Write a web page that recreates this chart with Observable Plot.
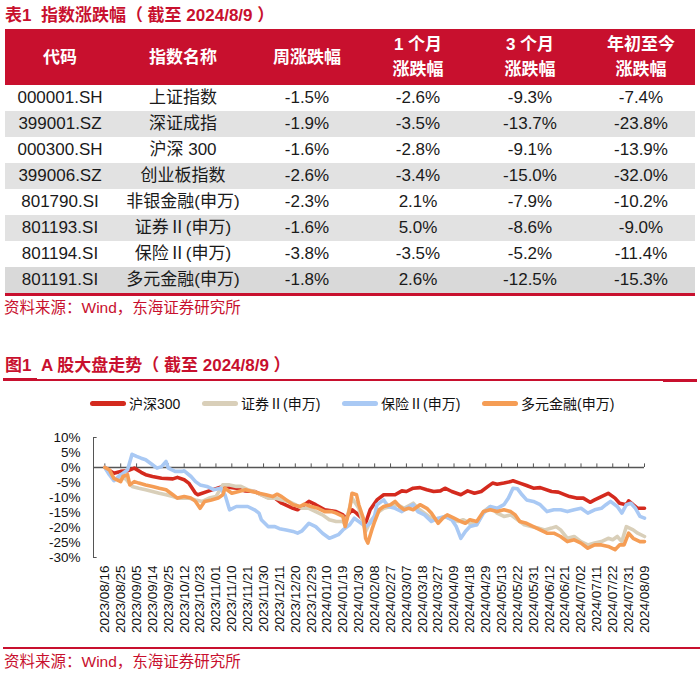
<!DOCTYPE html>
<html><head><meta charset="utf-8">
<script src="https://cdn.jsdelivr.net/npm/d3@7"></script>
<script src="https://cdn.jsdelivr.net/npm/@observablehq/plot@0.6"></script>
<style>
body{margin:0;background:#fff;}
#page{position:relative;width:700px;height:684px;overflow:hidden;font-family:"Liberation Sans",Arial,"Noto Sans CJK SC",sans-serif;}
.ttl{position:absolute;left:5px;font-size:17px;font-weight:bold;color:#c8102e;line-height:20px;white-space:nowrap;}
.src{position:absolute;left:4px;font-size:15.5px;color:#c8102e;line-height:18px;white-space:nowrap;}
table{position:absolute;top:29px;left:5px;border-collapse:collapse;table-layout:fixed;width:690px;}
th{background:#c8102e;color:#fff;font-size:17px;font-weight:bold;height:56px;padding:0;line-height:25px;text-align:center;}
td{height:26px;padding:0;font-size:17px;color:#1a1a1a;text-align:center;line-height:26px;}
tr.g td{background:#e2e2e2;}
tr.g2 td{background:#d9d9d9;}
tbody tr:last-child td{border-bottom:3px solid #c8102e;}
.leg{position:absolute;top:394px;left:0;height:18px;font-size:14px;color:#111;}
.li{position:absolute;top:0;display:flex;align-items:center;white-space:nowrap;height:18px;}
.sw{display:inline-block;width:36px;height:5px;border-radius:3px;margin-right:3px;}
</style></head>
<body><div id="page">
<div class="ttl" style="top:6px">表1&nbsp;&nbsp;指数涨跌幅（&nbsp;截至 2024/8/9&nbsp;）</div>
<table id="tbl"></table>
<div class="src" style="top:299px">资料来源：Wind，东海证券研究所</div>
<div class="ttl" style="top:356px">图1&nbsp;&nbsp;A 股大盘走势（&nbsp;截至 2024/8/9&nbsp;）</div>
<div style="position:absolute;left:3px;top:379px;width:694px;height:2px;background:#c8102e"></div>
<div style="position:absolute;left:3px;top:378px;width:34px;height:3px;background:#c8102e"></div>
<div style="position:absolute;left:663px;top:379px;width:34px;height:3px;background:#c8102e"></div>
<div class="leg" id="leg"></div>
<div id="chart" style="position:absolute;top:420px;left:0"></div>
<div style="position:absolute;left:3px;top:647px;width:697px;height:2px;background:#c8102e"></div>
<div class="src" style="top:653px">资料来源：Wind，东海证券研究所</div>
</div>
<script>
// ---- table data ----
const headers = ["代码","指数名称","周涨跌幅","1 个月<br>涨跌幅","3 个月<br>涨跌幅","年初至今<br>涨跌幅"];
const codes = ["000001.SH","399001.SZ","000300.SH","399006.SZ","801790.SI","801193.SI","801194.SI","801191.SI"];
const names = ["上证指数","深证成指","沪深 300","创业板指数","非银金融(申万)","证券Ⅱ(申万)","保险Ⅱ(申万)","多元金融(申万)"];
const weekChg = ["-1.5%","-1.9%","-1.6%","-2.6%","-2.3%","-1.6%","-3.8%","-1.8%"];
const m1Chg = ["-2.6%","-3.5%","-2.8%","-3.4%","2.1%","5.0%","-3.5%","2.6%"];
const m3Chg = ["-9.3%","-13.7%","-9.1%","-15.0%","-7.9%","-8.6%","-5.2%","-12.5%"];
const ytdChg = ["-7.4%","-23.8%","-13.9%","-32.0%","-10.2%","-9.0%","-11.4%","-15.3%"];
const colWidths = [110,136,112,110,114,108];

// ---- chart data ----
const dates = ["2023/08/16","2023/08/25","2023/09/05","2023/09/14","2023/09/25","2023/10/12","2023/10/23","2023/11/01","2023/11/10","2023/11/21","2023/11/30","2023/12/11","2023/12/20","2023/12/29","2024/01/10","2024/01/19","2024/01/30","2024/02/08","2024/02/27","2024/03/07","2024/03/18","2024/03/27","2024/04/09","2024/04/18","2024/04/29","2024/05/13","2024/05/22","2024/05/31","2024/06/12","2024/06/21","2024/07/02","2024/07/11","2024/07/22","2024/07/31","2024/08/09"];
const yTicks = [10,5,0,-5,-10,-15,-20,-25,-30];
const seriesNames = ["沪深300","证券Ⅱ(申万)","保险Ⅱ(申万)","多元金融(申万)"];
const seriesColors = ["#d42a1e","#d9cfb9","#a9c9f4","#f59d55"];
// [trading-day index, % change since 2023/08/16]
const hs300 = [[0,0],[4,-1.9],[7,-1.3],[10,-1.1],[13,-0.2],[16,-1.6],[18,-2.4],[21,-3.0],[25,-3.6],[30,-3.8],[32,-3.3],[35,-4.1],[37,-5.2],[40,-8.6],[41,-9.1],[46,-7.8],[52,-6.3],[58,-6.9],[62,-7.8],[66,-8.0],[71,-9.7],[75,-10.2],[78,-11.9],[83,-13.6],[85,-14.1],[87,-13.0],[90,-11.3],[93,-12.4],[97,-14.1],[102,-14.7],[105,-15.8],[106,-16.9],[109,-14.1],[111,-15.2],[114,-17.4],[115,-18.6],[117,-14.1],[119,-11.9],[120,-10.8],[123,-9.1],[128,-9.1],[131,-7.8],[133,-8.0],[136,-6.9],[139,-6.7],[142,-7.4],[145,-8.0],[148,-7.8],[150,-6.9],[153,-8.0],[157,-9.1],[160,-7.8],[163,-8.6],[166,-8.0],[169,-6.3],[171,-5.2],[173,-5.6],[176,-5.2],[179,-4.7],[180,-4.4],[183,-5.2],[186,-6.0],[189,-6.9],[192,-6.7],[197,-8.0],[200,-8.2],[203,-9.1],[205,-9.7],[208,-10.2],[211,-10.2],[214,-11.6],[216,-10.8],[219,-9.7],[222,-8.6],[225,-10.2],[227,-11.9],[230,-12.4],[231,-11.1],[233,-12.4],[235,-13.6],[238,-13.6]];
const sec2 = [[0,0],[4,-4.1],[9,-3.6],[12,-6.3],[15,-6.9],[18,-7.4],[21,-8.0],[24,-8.6],[27,-9.1],[30,-9.7],[32,-10.2],[37,-10.2],[40,-10.8],[43,-11.3],[46,-10.2],[49,-9.7],[52,-5.8],[55,-5.8],[58,-6.3],[60,-6.3],[63,-7.4],[66,-8.0],[69,-9.1],[72,-10.2],[75,-10.2],[78,-10.8],[81,-11.3],[84,-12.4],[87,-13.6],[90,-13.6],[93,-14.7],[96,-15.8],[99,-17.4],[102,-18.0],[105,-18.0],[106,-19.1],[109,-10.2],[112,-13.6],[115,-21.3],[117,-18.0],[119,-16.3],[120,-15.2],[123,-13.6],[126,-13.0],[129,-12.4],[132,-13.6],[136,-11.9],[138,-13.6],[141,-15.2],[144,-16.9],[147,-17.4],[150,-16.3],[153,-17.4],[156,-18.0],[158,-17.4],[161,-18.6],[164,-19.1],[167,-14.7],[170,-13.0],[173,-15.2],[176,-16.3],[179,-15.8],[182,-17.4],[185,-19.1],[188,-19.7],[191,-20.2],[194,-20.8],[197,-20.2],[199,-19.7],[201,-20.8],[204,-23.6],[207,-23.0],[210,-24.7],[213,-25.8],[216,-25.2],[219,-24.7],[222,-23.6],[224,-24.1],[226,-23.0],[228,-24.7],[230,-19.7],[233,-20.8],[235,-21.9],[238,-23.0]];
const ins2 = [[0,0],[2,-2.4],[4,-4.4],[7,-2.4],[8,-1.9],[10,-0.8],[12,4.4],[14,3.7],[16,3.1],[18,2.6],[21,0.9],[23,-0.2],[25,0.3],[27,2.0],[28,-0.2],[31,-1.3],[34,-1.3],[35,-1.1],[38,-3.0],[40,-4.7],[42,-5.8],[45,-6.3],[48,-7.4],[51,-6.9],[53,-9.1],[55,-14.1],[58,-13.0],[60,-13.0],[63,-13.0],[66,-14.1],[68,-15.2],[69,-17.4],[72,-19.7],[75,-19.7],[77,-20.4],[80,-20.8],[83,-21.3],[85,-21.9],[87,-21.1],[90,-18.6],[93,-19.7],[96,-21.9],[99,-23.6],[101,-23.0],[103,-22.4],[105,-20.8],[108,-19.1],[110,-16.9],[112,-18.0],[115,-19.7],[117,-18.6],[119,-16.0],[120,-12.4],[123,-10.8],[125,-13.0],[128,-13.6],[131,-14.7],[133,-13.6],[136,-12.4],[138,-14.7],[141,-15.8],[144,-18.0],[147,-16.9],[150,-16.3],[153,-17.4],[155,-19.7],[157,-23.6],[159,-21.3],[161,-19.7],[164,-19.1],[167,-15.2],[170,-13.0],[173,-13.6],[176,-12.4],[178,-10.2],[180,-6.9],[182,-7.1],[184,-9.1],[186,-10.8],[189,-11.3],[192,-12.4],[195,-14.7],[198,-14.1],[201,-14.1],[204,-14.7],[207,-14.1],[210,-13.6],[213,-15.2],[216,-14.1],[219,-13.6],[221,-12.4],[223,-11.3],[226,-13.0],[228,-15.2],[230,-12.4],[232,-11.9],[234,-13.6],[236,-16.3],[238,-16.9]];
const divfin = [[0,0],[2,-0.8],[4,-3.6],[7,-4.7],[8,-3.0],[10,-2.4],[11,-5.8],[13,-4.7],[15,-5.2],[18,-5.8],[21,-6.3],[24,-6.9],[27,-7.4],[30,-9.1],[32,-10.2],[35,-9.7],[38,-10.2],[40,-11.3],[42,-13.6],[44,-11.3],[47,-10.8],[50,-10.2],[52,-9.1],[53,-6.9],[56,-8.6],[59,-8.0],[62,-7.4],[65,-8.0],[68,-8.6],[71,-9.1],[74,-9.7],[76,-8.9],[78,-9.7],[80,-10.8],[83,-12.4],[86,-13.0],[88,-12.2],[91,-13.0],[94,-13.6],[97,-14.7],[100,-14.7],[102,-15.2],[105,-16.3],[106,-19.7],[108,-13.6],[109,-8.6],[111,-9.1],[112,-12.4],[114,-16.9],[115,-23.6],[116,-25.2],[118,-20.2],[119,-18.0],[121,-14.1],[123,-13.0],[126,-12.4],[128,-11.3],[130,-13.0],[132,-14.1],[134,-13.6],[136,-14.1],[139,-12.4],[142,-13.6],[144,-15.2],[147,-18.6],[149,-16.9],[151,-15.8],[154,-16.9],[157,-18.0],[159,-18.6],[161,-17.4],[164,-18.0],[167,-14.7],[170,-14.1],[173,-14.7],[176,-14.1],[179,-14.7],[181,-15.8],[183,-18.0],[186,-18.6],[189,-19.7],[192,-20.8],[195,-21.9],[198,-21.9],[201,-23.0],[204,-24.7],[207,-24.1],[210,-25.2],[213,-26.9],[216,-25.8],[219,-25.8],[222,-26.3],[225,-27.4],[227,-25.8],[229,-25.8],[231,-21.9],[233,-23.6],[236,-24.7],[238,-24.7]];
const seriesData = [hs300, sec2, ins2, divfin];

// ---- build table ----
const tbl = document.getElementById("tbl");
let html = "<colgroup>" + colWidths.map(w => `<col style="width:${w}px">`).join("") + "</colgroup>";
html += "<thead><tr>" + headers.map(h => `<th>${h}</th>`).join("") + "</tr></thead><tbody>";
codes.forEach((c, i) => {
  const cls = i % 2 === 1 ? (i === codes.length - 1 ? "g2" : "g") : "";
  html += `<tr class="${cls}"><td>${c}</td><td>${names[i]}</td><td>${weekChg[i]}</td><td>${m1Chg[i]}</td><td>${m3Chg[i]}</td><td>${ytdChg[i]}</td></tr>`;
});
html += "</tbody>";
tbl.innerHTML = html;

// ---- legend ----
const legX = [90, 202, 342, 482];
const leg = document.getElementById("leg");
seriesNames.forEach((n, i) => {
  const d = document.createElement("div");
  d.className = "li";
  d.style.left = legX[i] + "px";
  d.innerHTML = `<span class="sw" style="background:${seriesColors[i]}"></span>${n}`;
  leg.appendChild(d);
});

// ---- chart ----
const tickDays = dates.map((d, i) => i * 7);
const chart = Plot.plot({
  width: 700, height: 230,
  marginLeft: 93, marginRight: 56, marginTop: 17, marginBottom: 93,
  style: {fontFamily: '"Liberation Sans", Arial, sans-serif', fontSize: "13.5px", color: "#111", background: "transparent", overflow: "visible"},
  x: {domain: [-5, 238], ticks: tickDays, tickFormat: d => dates[Math.round(d / 7)], tickRotate: -90, tickSize: 0, tickPadding: 8, label: null},
  y: {domain: [-30, 10], ticks: yTicks, tickFormat: d => d + "%", tickSize: 0, tickPadding: 13, label: null},
  marks: [
    Plot.ruleX([-5], {y1: -30, y2: 10, stroke: "#555", strokeWidth: 1}),
    Plot.ruleY([10, -30], {x1: -5, x2: -3.4, stroke: "#555", strokeWidth: 1}),
    Plot.ruleY([0], {x1: -5, x2: 238, stroke: "#555", strokeWidth: 1.4}),
    Plot.ruleX(tickDays, {y1: 0, y2: 1.2, stroke: "#555", strokeWidth: 1}),
    ...seriesData.map((s, i) => Plot.line(s, {x: d => d[0], y: d => d[1], stroke: seriesColors[i], strokeWidth: 3.6, strokeLinejoin: "round", strokeLinecap: "round"}))
  ]
});
document.getElementById("chart").appendChild(chart);
</script>
</body></html>
